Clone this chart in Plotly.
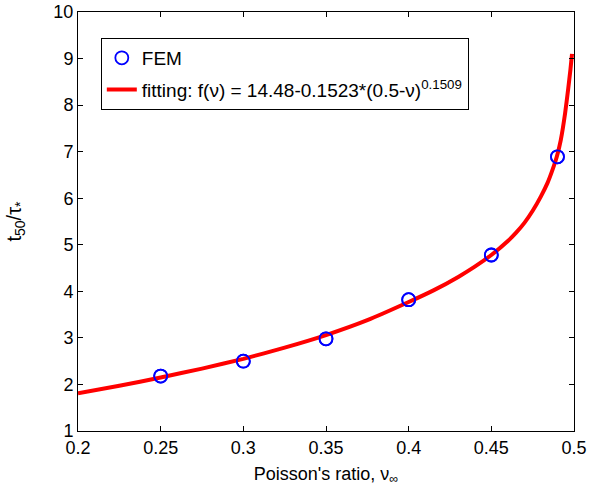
import plotly.graph_objects as go

# FEM data points
fem_nu = [0.25, 0.30, 0.35, 0.40, 0.45, 0.49]
fem_t = [2.18, 2.50, 2.98, 3.82, 4.78, 6.89]

# fitted curve
fit_nu = [0.200, 0.225, 0.250, 0.275, 0.300, 0.325, 0.350, 0.375, 0.400, 0.415,
          0.430, 0.440, 0.450, 0.460, 0.465, 0.470, 0.475, 0.480, 0.484, 0.4865,
          0.4895, 0.492, 0.4946, 0.4965, 0.4978, 0.4988]
fit_t = [1.81, 1.97, 2.15, 2.34, 2.55, 2.79, 3.06, 3.38, 3.77, 4.02,
         4.31, 4.53, 4.78, 5.08, 5.26, 5.47, 5.73, 6.04, 6.33, 6.56,
         6.88, 7.25, 7.82, 8.35, 8.75, 9.10]

x_ticks = [0.2, 0.25, 0.3, 0.35, 0.4, 0.45, 0.5]
x_labels = ["0.2", "0.25", "0.3", "0.35", "0.4", "0.45", "0.5"]
y_ticks = list(range(1, 11))

marker_style = dict(symbol="circle-open", size=13, color="#0000ff",
                    line=dict(width=1.8, color="#0000ff"))

fig = go.Figure()
fig.add_trace(go.Scatter(
    x=fem_nu, y=fem_t, mode="markers", name="FEM", legendgroup="a",
    marker=marker_style,
))
fig.add_trace(go.Scatter(
    x=fit_nu, y=fit_t, mode="lines", legendgroup="b",
    name="fitting: f(ν) = 14.48-0.1523*(0.5-ν)<sup>0.1509</sup>",
    line=dict(color="#ff0000", width=4, shape="spline", smoothing=0.4),
))
# redraw markers on top of the line
fig.add_trace(go.Scatter(
    x=fem_nu, y=fem_t, mode="markers", showlegend=False, marker=marker_style,
))

axis_common = dict(
    showline=True, linecolor="black", linewidth=1, mirror="allticks",
    ticks="inside", ticklen=5, tickcolor="black", showgrid=False, zeroline=False,
    tickfont=dict(size=18, color="black"), automargin=False,
    ticklabeloverflow="allow",
)
fig.update_xaxes(range=[0.2, 0.5], tickvals=x_ticks, ticktext=x_labels,
                 title=dict(text="Poisson's ratio, ν<sub>∞</sub>",
                            font=dict(size=18, color="black"), standoff=10),
                 **axis_common)
fig.update_yaxes(range=[1, 10], tickvals=y_ticks,
                 title=dict(text="t<sub>50</sub>/τ<sub>*</sub>",
                            font=dict(size=20, color="black"), standoff=26),
                 **axis_common)

fig.update_layout(
    width=589, height=504,
    margin=dict(l=78, r=15, t=12, b=73),
    paper_bgcolor="white", plot_bgcolor="white",
    font=dict(family="Liberation Sans, Arial, sans-serif", color="black"),
    legend=dict(x=0.046, y=0.938, xanchor="left", yanchor="top",
                bordercolor="black", borderwidth=1, bgcolor="white",
                font=dict(size=19), tracegroupgap=4),
    showlegend=True,
)

# remove the default page margin so the figure sits at the window's corner
fig.write_html("out.html", config={"displayModeBar": False},
               post_script="document.body.style.margin='0';")
